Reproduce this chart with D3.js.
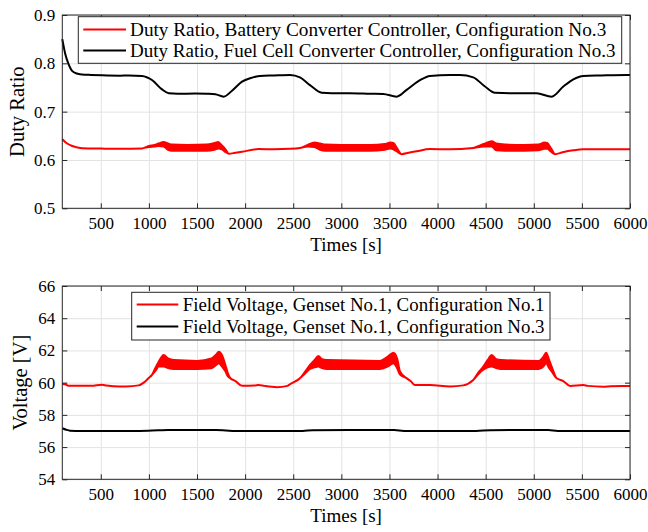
<!DOCTYPE html>
<html>
<head>
<meta charset="utf-8">
<script src="https://cdn.jsdelivr.net/npm/d3@7"></script>
<style>
  body { margin: 0; background: #fff; }
  text { font-family: "Liberation Serif", "Times New Roman", serif; fill: #000; }
</style>
</head>
<body>
<div id="chart"></div>
<script>
// ---- data ----
var xTicks = [500, 1000, 1500, 2000, 2500, 3000, 3500, 4000, 4500, 5000, 5500, 6000];
var dutyTicks = [0.5, 0.6, 0.7, 0.8, 0.9];
var voltTicks = [54, 56, 58, 60, 62, 64, 66];

// duty ratio, fuel cell converter controller, config 3
var fcTime = [100,130,162,204,250,305,400,513,700,790,928,1032,1136,1206,1300,1482,1600,1690,1777,1864,
  1968,2051,2106,2155,2300,2466,2570,2674,2796,2900,3090,3300,3436,3575,3679,3817,3921,4129,4233,4371,
  4493,4597,4800,5030,5186,5307,5411,5515,5700,5966,6000];
var fcDuty = [0.850,0.820,0.800,0.784,0.779,0.777,0.776,0.7752,0.7745,0.775,0.774,0.7655,0.746,0.738,0.737,0.7375,0.737,0.736,0.731,0.7434,
  0.762,0.769,0.7724,0.774,0.775,0.776,0.771,0.755,0.739,0.738,0.738,0.737,0.7365,0.731,0.745,0.765,0.774,0.776,0.776,0.771,
  0.752,0.739,0.738,0.738,0.731,0.752,0.767,0.774,0.775,0.776,0.776];

// duty ratio, battery converter controller, config 3 (lower / upper envelope of the ripple)
var batTime = [100,150,204,305,513,700,928,998,1060,1100,1154,1200,1240,1400,1600,1680,1720,1760,1800,1830,
  1900,1968,2141,2300,2466,2570,2650,2720,2780,2830,3000,3300,3450,3510,3540,3580,3627,3700,3783,3921,
  4129,4371,4480,4563,4610,4700,4900,5050,5110,5140,5180,5221,5300,5411,5515,6000];
var batLow = [0.643,0.634,0.629,0.6245,0.6235,0.623,0.624,0.627,0.628,0.629,0.628,0.621,0.619,0.619,0.619,0.621,0.624,0.622,0.616,0.613,
  0.615,0.617,0.6225,0.622,0.623,0.625,0.628,0.627,0.621,0.619,0.619,0.619,0.621,0.624,0.622,0.617,0.612,0.615,0.618,0.6225,
  0.622,0.625,0.628,0.628,0.620,0.619,0.619,0.620,0.623,0.623,0.617,0.612,0.616,0.620,0.622,0.622];
var batHigh = [0.643,0.634,0.629,0.6245,0.6235,0.623,0.624,0.629,0.631,0.634,0.637,0.634,0.632,0.631,0.632,0.635,0.637,0.630,0.621,0.613,
  0.615,0.617,0.6225,0.622,0.623,0.625,0.631,0.636,0.634,0.632,0.631,0.631,0.633,0.636,0.635,0.624,0.612,0.615,0.618,0.6225,
  0.622,0.625,0.633,0.639,0.634,0.632,0.631,0.632,0.636,0.635,0.624,0.612,0.616,0.620,0.622,0.622];

// field voltage, genset 1, config 1 (lower / upper envelope)
var fv1Time = [100,130,170,400,513,560,700,760,894,946,1000,1032,1070,1102,1154,1200,1260,1500,1650,1700,
  1726,1760,1795,1820,1847,1900,1968,2100,2141,2200,2329,2440,2466,2570,2620,2674,2720,2761,2800,2850,
  3400,3480,3541,3580,3610,3680,3720,3766,3921,4129,4267,4371,4420,4475,4520,4563,4610,4660,5050,5100,
  5128,5160,5186,5238,5307,5377,5515,5560,5723,5800,6000];
var fv1Low = [59.92,59.90,59.80,59.80,59.87,59.82,59.76,59.76,59.83,60.00,60.30,60.48,60.75,61.00,61.00,60.90,60.85,60.85,60.90,61.10,
  61.20,61.00,60.70,60.40,60.27,60.10,59.80,59.83,59.86,59.80,59.72,59.80,59.90,60.27,60.55,60.85,60.95,61.00,60.90,60.85,
  60.85,61.00,61.20,60.90,60.50,60.27,60.10,59.85,59.85,59.76,59.83,60.17,60.50,60.80,60.95,61.00,60.90,60.85,60.85,61.00,
  61.20,60.90,60.70,60.27,60.10,59.79,59.85,59.80,59.75,59.78,59.79];
var fv1High = [59.92,59.90,59.80,59.80,59.87,59.82,59.76,59.76,59.83,60.00,60.30,60.48,60.95,61.30,61.72,61.50,61.40,61.35,61.50,61.75,
  61.92,61.70,61.10,60.60,60.27,60.10,59.80,59.83,59.86,59.80,59.72,59.80,59.90,60.27,60.65,61.10,61.40,61.65,61.45,61.40,
  61.35,61.60,61.86,61.50,60.70,60.27,60.10,59.85,59.85,59.76,59.83,60.17,60.60,61.00,61.40,61.72,61.45,61.40,61.35,61.60,
  61.86,61.40,61.00,60.27,60.10,59.79,59.85,59.80,59.75,59.78,59.79];

// field voltage, genset 1, config 3
var fv3Time = [100,140,180,300,900,1100,1200,1700,1800,1900,2600,2700,3550,3650,4400,4550,5150,5250,6000];
var fv3Volt = [57.17,57.08,57.02,57.00,57.00,57.04,57.06,57.06,57.03,57.00,57.00,57.05,57.06,57.00,57.00,57.05,57.06,57.00,57.00];

var legendTop = ["Duty Ratio, Battery Converter Controller, Configuration No.3",
                 "Duty Ratio, Fuel Cell Converter Controller, Configuration No.3"];
var legendBottom = ["Field Voltage, Genset No.1, Configuration No.1",
                    "Field Voltage, Genset No.1, Configuration No.3"];

// ---- layout ----
var W = 648, H = 532;
var FONT = "'Liberation Serif', 'Times New Roman', serif";
var svg = d3.select("#chart").append("svg").attr("width", W).attr("height", H);

var x = d3.scaleLinear().domain([100, 6000]).range([62.3, 630]);

function panel(opts) {
  var y = d3.scaleLinear().domain(opts.domain).range([opts.bottom, opts.top]);
  var g = svg.append("g");
  var left = x.range()[0], right = x.range()[1];

  // grid
  g.append("g").attr("transform", "translate(0," + opts.bottom + ")")
    .call(d3.axisBottom(x).tickValues(xTicks).tickSize(-(opts.bottom - opts.top)).tickFormat(""))
    .call(function(s) { s.select(".domain").remove(); s.selectAll("line").attr("stroke", "#e3e3e3"); });
  g.append("g").attr("transform", "translate(" + left + ",0)")
    .call(d3.axisLeft(y).tickValues(opts.ticks).tickSize(-(right - left)).tickFormat(""))
    .call(function(s) { s.select(".domain").remove(); s.selectAll("line").attr("stroke", "#e3e3e3"); });

  // series
  opts.draw(g, y);

  // axes with inward ticks
  var ax = g.append("g").attr("transform", "translate(0," + opts.bottom + ")")
    .call(d3.axisBottom(x).tickValues(xTicks).tickSizeInner(-5).tickSizeOuter(0).tickPadding(8.5)
      .tickFormat(d3.format("d")));
  var ay = g.append("g").attr("transform", "translate(" + left + ",0)")
    .call(d3.axisLeft(y).tickValues(opts.ticks).tickSizeInner(-5).tickSizeOuter(0).tickPadding(7)
      .tickFormat(opts.fmt));
  var at = g.append("g").attr("transform", "translate(0," + opts.top + ")")
    .call(d3.axisTop(x).tickValues(xTicks).tickSizeInner(-5).tickSizeOuter(0).tickFormat(""));
  var ar = g.append("g").attr("transform", "translate(" + right + ",0)")
    .call(d3.axisRight(y).tickValues(opts.ticks).tickSizeInner(-5).tickSizeOuter(0).tickFormat(""));
  [ax, ay, at, ar].forEach(function(a) {
    a.attr("font-family", FONT).attr("font-size", 17);
    a.select(".domain").remove();
    a.selectAll("line").attr("stroke", "#262626");
    a.selectAll("text").attr("fill", "#000");
  });
  g.append("rect").attr("x", left).attr("y", opts.top)
    .attr("width", right - left).attr("height", opts.bottom - opts.top)
    .attr("fill", "none").attr("stroke", "#262626").attr("stroke-width", 1);

  // labels
  g.append("text").attr("x", (left + right) / 2).attr("y", opts.bottom + 43)
    .attr("text-anchor", "middle").style("font-size", "19px").text("Times [s]");
  g.append("text").attr("transform", "translate(" + opts.ylx + "," + (opts.top + opts.bottom) / 2 + ") rotate(-90)")
    .attr("text-anchor", "middle").style("font-size", "20.5px").text(opts.ylabel);

  // legend
  var L = opts.legend;
  var lg = g.append("g");
  lg.append("rect").attr("x", L.x).attr("y", L.y).attr("width", L.w).attr("height", L.h)
    .attr("fill", "#fff").attr("stroke", "#262626").attr("stroke-width", 1);
  L.items.forEach(function(it, i) {
    var yy = L.rows[i];
    lg.append("line").attr("x1", L.lx1).attr("x2", L.lx2).attr("y1", yy).attr("y2", yy)
      .attr("stroke", it.color).attr("stroke-width", 2.2);
    var t = lg.append("text").attr("x", L.tx).attr("y", yy).attr("dy", "0.33em")
      .style("font-size", "16px").text(it.label);
    var w = t.node().getComputedTextLength();
    t.style("font-size", (16 * it.width / w).toFixed(2) + "px");
  });
}

// top panel: duty ratio
panel({
  domain: [0.5, 0.9], top: 15, bottom: 208.3, ticks: dutyTicks, fmt: d3.format(".1f"),
  ylabel: "Duty Ratio", ylx: 24,
  legend: { x: 78.3, y: 16.7, w: 543.4, h: 46.6, lx1: 83.3, lx2: 126, tx: 130, rows: [29.5, 50.5],
    items: [{ color: "#ff0000", label: legendTop[0], width: 476.5 },
            { color: "#000000", label: legendTop[1], width: 486 }] },
  draw: function(g, y) {
    var bat = batTime.map(function(t, i) { return [t, batLow[i], batHigh[i]]; });
    g.append("path").datum(bat)
      .attr("d", d3.area().x(function(d) { return x(d[0]); }).y0(function(d) { return y(d[1]); })
        .y1(function(d) { return y(d[2]); }).curve(d3.curveMonotoneX))
      .attr("fill", "#ff0000").attr("stroke", "#ff0000").attr("stroke-width", 2);
    var fc = fcTime.map(function(t, i) { return [t, fcDuty[i]]; });
    g.append("path").datum(fc)
      .attr("d", d3.line().x(function(d) { return x(d[0]); }).y(function(d) { return y(d[1]); }).curve(d3.curveMonotoneX))
      .attr("fill", "none").attr("stroke", "#000").attr("stroke-width", 2);
  }
});

// bottom panel: field voltage
panel({
  domain: [54, 66], top: 286, bottom: 479.3, ticks: voltTicks, fmt: d3.format("d"),
  ylabel: "Voltage [V]", ylx: 27,
  legend: { x: 131.7, y: 292.3, w: 418.3, h: 47.7, lx1: 136.7, lx2: 178.3, tx: 182.7, rows: [304.5, 326.5],
    items: [{ color: "#ff0000", label: legendBottom[0], width: 362 },
            { color: "#000000", label: legendBottom[1], width: 362 }] },
  draw: function(g, y) {
    var fv1 = fv1Time.map(function(t, i) { return [t, fv1Low[i], fv1High[i]]; });
    g.append("path").datum(fv1)
      .attr("d", d3.area().x(function(d) { return x(d[0]); }).y0(function(d) { return y(d[1]); })
        .y1(function(d) { return y(d[2]); }).curve(d3.curveMonotoneX))
      .attr("fill", "#ff0000").attr("stroke", "#ff0000").attr("stroke-width", 2);
    var fv3 = fv3Time.map(function(t, i) { return [t, fv3Volt[i]]; });
    g.append("path").datum(fv3)
      .attr("d", d3.line().x(function(d) { return x(d[0]); }).y(function(d) { return y(d[1]); }).curve(d3.curveMonotoneX))
      .attr("fill", "none").attr("stroke", "#000").attr("stroke-width", 2);
  }
});
</script>
</body>
</html>
